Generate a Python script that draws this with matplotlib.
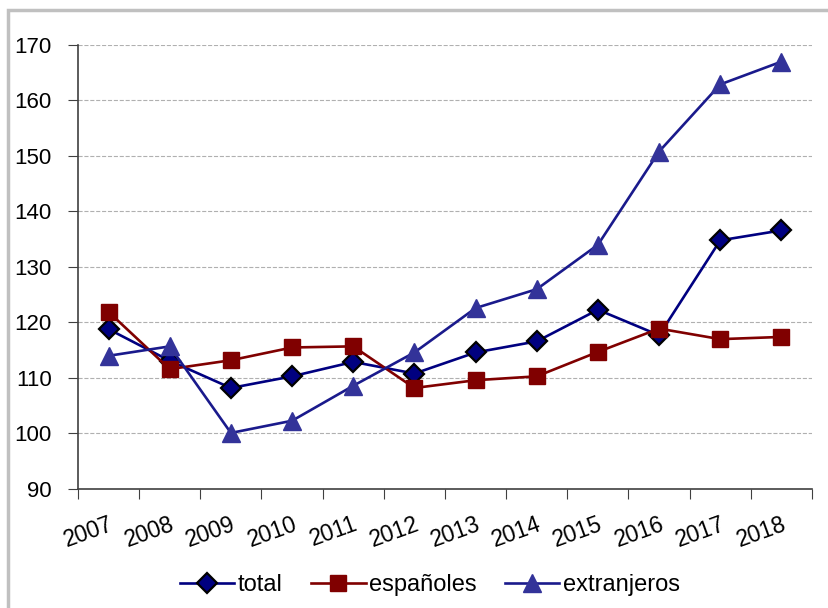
import matplotlib
matplotlib.use('Agg')
import matplotlib.pyplot as plt
from matplotlib.patches import Rectangle
import numpy as np

plt.rcParams['font.family'] = ['Liberation Sans', 'DejaVu Sans']

# datos
years = ['2007', '2008', '2009', '2010', '2011', '2012',
         '2013', '2014', '2015', '2016', '2017', '2018']
total = [118.8, 113.1, 108.2, 110.3, 112.9, 110.8,
         114.6, 116.6, 122.3, 117.7, 134.8, 136.6]
espanoles = [121.9, 111.6, 113.2, 115.5, 115.7, 108.2,
             109.6, 110.3, 114.7, 118.9, 117.0, 117.4]
extranjeros = [114.0, 115.7, 100.1, 102.3, 108.6, 114.6,
               122.6, 126.0, 134.0, 150.8, 162.9, 167.0]

fig = plt.figure(figsize=(8.29, 6.08), dpi=100)
ax = fig.add_axes([78 / 829, 1 - 489 / 608, (812 - 78) / 829, (489 - 45) / 608])

# borde gris del área del gráfico
fig.patches.append(Rectangle((8 / 829, -0.1), 1.2, 1 - 10 / 608 + 0.1,
                             transform=fig.transFigure, fill=False,
                             edgecolor='#c0c0c0', linewidth=2.5))

x = np.arange(len(years)) + 0.5

ax.plot(x, total, color='#000080', linewidth=1.9, marker='D', markersize=10,
        markerfacecolor='#000080', markeredgecolor='black', markeredgewidth=1.6,
        label='total', clip_on=False)
ax.plot(x, espanoles, color='#800000', linewidth=1.9, marker='s', markersize=11.5,
        markerfacecolor='#800000', markeredgecolor='#800000',
        label='españoles', clip_on=False)
ax.plot(x, extranjeros, color='#1a1a8c', linewidth=1.9, marker='^', markersize=12.5,
        markerfacecolor='#333399', markeredgecolor='#333399',
        label='extranjeros', clip_on=False)

ax.set_xlim(0, len(years))
ax.set_ylim(90, 170)
ax.set_yticks(np.arange(90, 171, 10))
ax.yaxis.grid(True, linestyle='--', color='#b0b0b0', linewidth=0.8)
ax.set_axisbelow(True)

ax.set_xticks(np.arange(len(years) + 1))
ax.set_xticklabels([])
ax.set_xticks(x, minor=True)
ax.set_xticklabels(years, minor=True, rotation=20, ha='right', va='top',
                   rotation_mode='anchor', fontsize=16.5)
ax.tick_params(axis='x', which='minor', length=0, pad=17)
ax.tick_params(axis='x', which='major', length=7, direction='out', color='#404040')
ax.tick_params(axis='y', length=7, direction='out', color='#404040', pad=12,
               labelsize=16)

for s in ['top', 'right']:
    ax.spines[s].set_visible(False)
for s in ['left', 'bottom']:
    ax.spines[s].set_color('#404040')
    ax.spines[s].set_linewidth(1.2)

fig.legend(loc='center', bbox_to_anchor=(430 / 829, 1 - 585 / 608), ncol=3,
           frameon=False, fontsize=17, handlelength=2.3, columnspacing=1.2,
           handletextpad=0.15)

fig.savefig('out.png', dpi=100)
